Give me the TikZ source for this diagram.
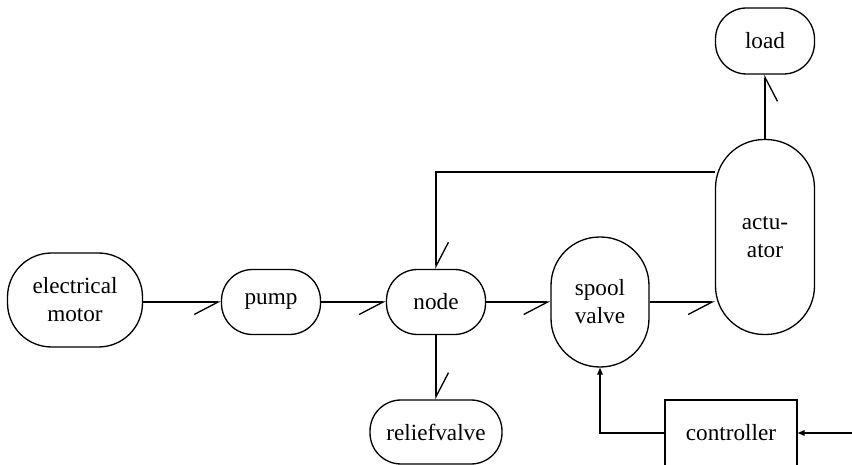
\documentclass[tikz,border=0pt]{standalone}
\usepackage{fontspec}
\setmainfont{Liberation Serif}
\usetikzlibrary{arrows.meta}

\begin{document}
\begin{tikzpicture}[x=0.02cm,y=-0.02cm,line width=0.75pt,
        font=\fontsize{13.2}{16}\selectfont,
        blob/.style={draw,rounded corners=0.62cm,minimum width=1.98cm,minimum height=1.3cm,inner sep=0pt,align=center},
        tall/.style={blob,rounded corners=0.97cm},
        bond/.style={-{Straight Barb[#1,length=0.48cm,width=0.5cm]}},
        sig/.style={-{Triangle[length=0.14cm,width=0.11cm]}}]
        \useasboundingbox (0,0) rectangle (852,465);
        % elements
        \node[blob,rounded corners=0.88cm,minimum width=2.7cm,minimum height=1.88cm] (motor) at (75,300) {electrical\\motor};
        \node[blob] (pump) at (271,302) {pump};
        \node[blob] (node) at (436,302) {node};
        \node[blob,minimum width=2.64cm,minimum height=1.28cm] (relief) at (436,432) {reliefvalve};
        \node[tall,minimum width=1.96cm,minimum height=2.6cm] (spool) at (600,302) {spool\\valve};
        \node[tall,minimum height=3.9cm] (act) at (765,237) {actu-\\ator};
        \node[blob,minimum height=1.32cm] (load) at (765,41) {load};
        \node[draw,minimum width=2.64cm,minimum height=1.32cm] (ctrl) at (731,433) {controller};
        \coordinate (fb) at (436,172);
        \coordinate (in) at (852,433);
        % bonds
        \draw[bond=right] (motor.east |- pump) -- (pump.west);
        \draw[bond=right] (pump) -- (node);
        \draw[bond=right] (node) -- (spool);
        \draw[bond=right] (spool.east) -- (spool.east -| act.west);
        \draw[bond=right] (act.north) -- (load.south);
        \draw[bond=left] (act.west |- fb) -- (fb) -- (node.north);
        \draw[bond=left] (node) -- (relief);
        % signals
        \draw[sig] (ctrl.west) -| (spool.south);
        \draw[sig] (in) -- (ctrl.east);
    \end{tikzpicture}
\end{document}
